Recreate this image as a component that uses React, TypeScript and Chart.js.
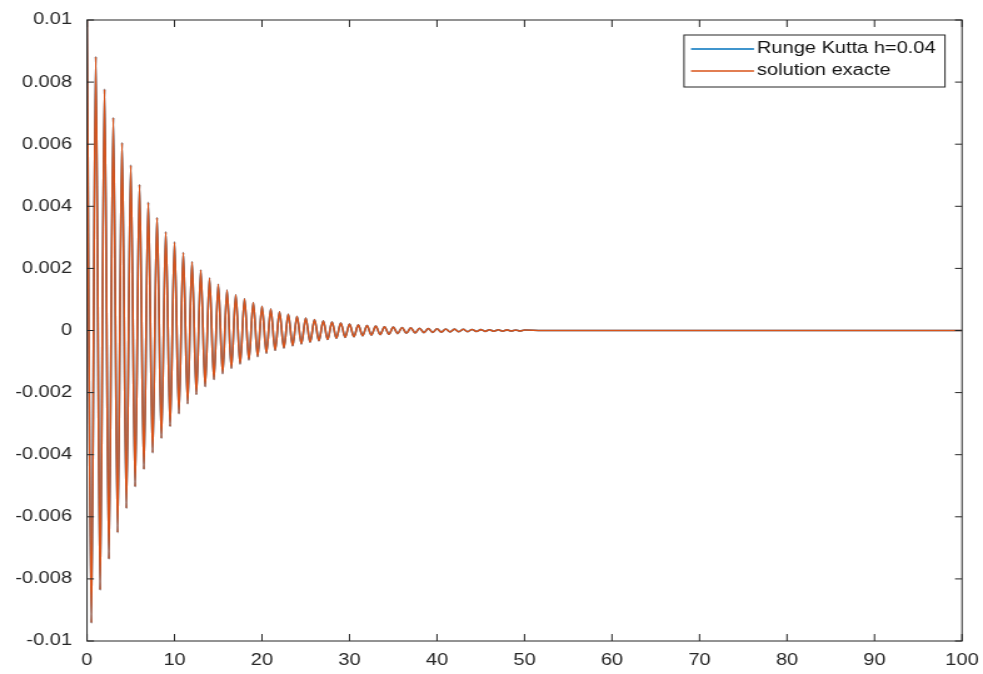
import React, { useEffect, useRef } from "react";
import { Chart, registerables } from "chart.js";

Chart.register(...registerables);

// ---- data ----
const seriesLabels = ["Runge Kutta h=0.04", "solution exacte"];
const seriesColors = ["#0072BD", "#D95319"];

// local maxima, one per period (t = 0, 1, 2, ...)
const maxima = [
  0.0100, 0.00882, 0.00778, 0.00686, 0.00605, 0.00533, 0.00470, 0.00413, 0.00364, 0.00318,
  0.00285, 0.00251, 0.00221, 0.00195, 0.00169, 0.00149, 0.00130, 0.00115, 0.00102, 0.00090,
  0.00078, 0.00069, 0.00060, 0.00052, 0.00046, 0.00040, 0.00035, 0.00031, 0.00027, 0.00024,
  0.00021, 0.00018, 0.00016, 0.00014, 0.00012, 0.00011, 0.000095, 0.000083, 0.000073, 0.000064,
  0.000056, 0.000049, 0.000043, 0.000038, 0.000033, 0.000029, 0.000025, 0.000022, 0.000019, 0.000017,
  0.000015,
];
// local minima, half a period later (t = 0.5, 1.5, 2.5, ...)
const minima = [
  -0.00942, -0.00836, -0.00736, -0.00651, -0.00573, -0.00503, -0.00447, -0.00394, -0.00347, -0.00309,
  -0.00268, -0.00236, -0.00206, -0.00181, -0.00158, -0.00139, -0.00122, -0.00108, -0.00095, -0.00084,
  -0.00073, -0.00064, -0.00056, -0.00049, -0.00043, -0.00038, -0.00033, -0.00029, -0.00025, -0.00022,
  -0.00020, -0.00017, -0.00015, -0.00013, -0.00012, -0.00010, -0.000088, -0.000078, -0.000068, -0.000060,
  -0.000053, -0.000046, -0.000040, -0.000035, -0.000031, -0.000027, -0.000024, -0.000021, -0.000018, -0.000016,
];
const period = 1;
const tailTimes = [52, 100];
const tailValues = [0, 0];

const xTicks = [0, 10, 20, 30, 40, 50, 60, 70, 80, 90, 100];
const yTicks = [-0.01, -0.008, -0.006, -0.004, -0.002, 0, 0.002, 0.004, 0.006, 0.008, 0.01];

// ---- layout (internal canvas is stretched horizontally to match the reference) ----
const OUT_W = 983;
const OUT_H = 674;
const STRETCH = 1.25;
const IN_W = Math.round(OUT_W / STRETCH);
const SX = OUT_W / IN_W;
const FONT = "'Liberation Sans', Arial, Helvetica, sans-serif";
const FONT_SIZE = 16;
const AXIS_COLOR = "#262626";
const PLOT_LEFT = 87;
const PLOT_RIGHT = 962;
const PLOT_TOP = 20;
const PLOT_BOTTOM = 641;

function buildPoints() {
  const pts: { x: number; y: number }[] = [];
  maxima.forEach((v, i) => {
    pts.push({ x: i * period, y: v });
    if (i < minima.length) pts.push({ x: i * period + period / 2, y: minima[i] });
  });
  tailTimes.forEach((t, i) => pts.push({ x: t, y: tailValues[i] }));
  return pts;
}

const framePlugin = {
  id: "matlabFrame",
  afterDatasetsDraw(chart: any) {
    const { ctx, chartArea, scales } = chart;
    const { left, right, top, bottom } = chartArea;
    const xs = scales.x;
    const ys = scales.y;
    ctx.save();
    ctx.strokeStyle = AXIS_COLOR;
    ctx.lineWidth = 1;
    ctx.strokeRect(left, top, right - left, bottom - top);
    const tlV = 7;
    const tlH = 7 / SX;
    ctx.beginPath();
    xTicks.forEach((v) => {
      const px = xs.getPixelForValue(v);
      ctx.moveTo(px, bottom);
      ctx.lineTo(px, bottom - tlV);
      ctx.moveTo(px, top);
      ctx.lineTo(px, top + tlV);
    });
    yTicks.forEach((v) => {
      const py = ys.getPixelForValue(v);
      ctx.moveTo(left, py);
      ctx.lineTo(left + tlH, py);
      ctx.moveTo(right, py);
      ctx.lineTo(right - tlH, py);
    });
    ctx.stroke();
    ctx.restore();
  },
  afterDraw(chart: any) {
    const { ctx } = chart;
    const bx = 684 / SX;
    const bw = (945 - 684) / SX;
    const by = 35;
    const bh = 52;
    ctx.save();
    ctx.fillStyle = "#ffffff";
    ctx.fillRect(bx, by, bw, bh);
    ctx.strokeStyle = AXIS_COLOR;
    ctx.lineWidth = 1;
    ctx.strokeRect(bx, by, bw, bh);
    const lx0 = 691 / SX;
    const lx1 = 754 / SX;
    const tx = 757 / SX;
    const rows = [49, 71];
    ctx.font = `${FONT_SIZE}px ${FONT}`;
    ctx.textBaseline = "middle";
    ctx.textAlign = "left";
    chart.data.datasets.forEach((ds: any, i: number) => {
      const yy = rows[i];
      ctx.strokeStyle = ds.borderColor;
      ctx.lineWidth = 1.5;
      ctx.beginPath();
      ctx.moveTo(lx0, yy);
      ctx.lineTo(lx1, yy);
      ctx.stroke();
      ctx.fillStyle = "#111111";
      ctx.fillText(ds.label, tx, yy);
    });
    ctx.restore();
  },
};

export default function App() {
  const canvasRef = useRef<HTMLCanvasElement | null>(null);

  useEffect(() => {
    const canvas = canvasRef.current;
    if (!canvas) return;
    const pts = buildPoints();
    const chart = new Chart(canvas, {
      type: "line",
      data: {
        datasets: seriesLabels.map((label, i) => ({
          label,
          data: pts.map((p) => ({ x: p.x, y: p.y })),
          borderColor: seriesColors[i],
          backgroundColor: seriesColors[i],
          borderWidth: 1.6,
          pointRadius: 0,
          fill: false,
          cubicInterpolationMode: "monotone" as const,
          order: i === 0 ? 1 : 0,
        })),
      },
      options: {
        animation: false,
        responsive: false,
        maintainAspectRatio: false,
        devicePixelRatio: 1,
        layout: { padding: { left: 0, right: IN_W - PLOT_RIGHT / SX, top: PLOT_TOP, bottom: 0 } },
        plugins: {
          legend: { display: false },
          tooltip: { enabled: false },
        },
        scales: {
          x: {
            type: "linear",
            min: 0,
            max: 100,
            grid: { display: false, drawTicks: false },
            border: { display: false },
            afterBuildTicks: (scale: any) => {
              scale.ticks = xTicks.map((v) => ({ value: v }));
            },
            afterFit: (scale: any) => {
              scale.height = OUT_H - PLOT_BOTTOM;
              scale.paddingLeft = 0;
              scale.paddingRight = 0;
            },
            ticks: {
              padding: 10,
              autoSkip: false,
              maxRotation: 0,
              color: AXIS_COLOR,
              font: { family: FONT, size: FONT_SIZE },
              callback: (v: any) => String(v),
            },
          },
          y: {
            type: "linear",
            min: -0.01,
            max: 0.01,
            grid: { display: false, drawTicks: false },
            border: { display: false },
            afterBuildTicks: (scale: any) => {
              scale.ticks = yTicks.map((v) => ({ value: v }));
            },
            afterFit: (scale: any) => {
              scale.width = PLOT_LEFT / SX;
              scale.paddingTop = 0;
              scale.paddingBottom = 0;
            },
            ticks: {
              padding: 12,
              autoSkip: false,
              color: AXIS_COLOR,
              font: { family: FONT, size: FONT_SIZE },
              callback: (v: any) => String(+Number(v).toFixed(3)),
            },
          },
        },
      },
      plugins: [framePlugin],
    });
    return () => chart.destroy();
  }, []);

  return (
    <div
      style={{
        position: "fixed",
        left: 0,
        top: 0,
        width: OUT_W,
        height: OUT_H,
        background: "#ffffff",
        overflow: "hidden",
      }}
    >
      <canvas
        ref={canvasRef}
        width={IN_W}
        height={OUT_H}
        style={{ width: `${OUT_W}px`, height: `${OUT_H}px`, display: "block" }}
      />
    </div>
  );
}
